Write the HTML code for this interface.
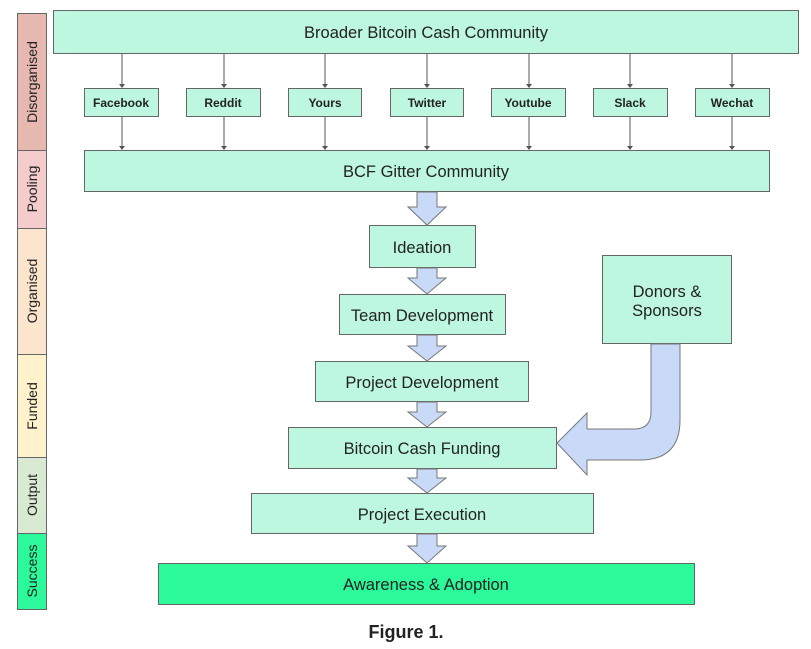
<!DOCTYPE html>
<html><head><meta charset="utf-8"><style>
body{margin:0;background:#fff;width:811px;height:649px;overflow:hidden}
svg{display:block}
text{font-family:"Liberation Sans",Arial,sans-serif;fill:#222}
</style></head><body>
<svg width="811" height="649" viewBox="0 0 811 649" xmlns="http://www.w3.org/2000/svg">
<g stroke="#666" stroke-width="1">
<rect x="17.5" y="13.5" width="29" height="137" fill="#e6b8af"/>
<rect x="17.5" y="150.5" width="29" height="78" fill="#f4cccc"/>
<rect x="17.5" y="228.5" width="29" height="126" fill="#fce5cd"/>
<rect x="17.5" y="354.5" width="29" height="103" fill="#fff2cc"/>
<rect x="17.5" y="457.5" width="29" height="76" fill="#d9ead3"/>
<rect x="17.5" y="533.5" width="29" height="76" fill="#2bf99a"/>
</g>
<g font-size="14" text-anchor="middle">
<text transform="translate(37,82) rotate(-90)">Disorganised</text>
<text transform="translate(37,189) rotate(-90)">Pooling</text>
<text transform="translate(37,291) rotate(-90)">Organised</text>
<text transform="translate(37,406) rotate(-90)">Funded</text>
<text transform="translate(37,495) rotate(-90)">Output</text>
<text transform="translate(37,571) rotate(-90)">Success</text>
</g>
<g stroke="#666" stroke-width="1" fill="#bdf7df">
<rect x="53.5" y="10.5" width="745" height="43"/>
<rect x="84.5" y="88.5" width="74" height="28"/>
<rect x="186.5" y="88.5" width="74" height="28"/>
<rect x="288.5" y="88.5" width="73" height="28"/>
<rect x="390.5" y="88.5" width="73" height="28"/>
<rect x="491.5" y="88.5" width="74" height="28"/>
<rect x="593.5" y="88.5" width="74" height="28"/>
<rect x="695.5" y="88.5" width="74" height="28"/>
<rect x="84.5" y="150.5" width="685" height="41"/>
<rect x="369.5" y="225.5" width="106" height="42"/>
<rect x="339.5" y="294.5" width="166" height="40"/>
<rect x="315.5" y="361.5" width="213" height="40"/>
<rect x="288.5" y="427.5" width="268" height="41"/>
<rect x="251.5" y="493.5" width="342" height="40"/>
<rect x="602.5" y="255.5" width="129" height="88"/>
<rect x="158.5" y="563.5" width="536" height="41" fill="#2bf99a"/>
</g>
<g stroke="#555" stroke-width="1">
<path d="M122 54V85M224 54V85M325 54V85M427 54V85M529 54V85M630 54V85M732 54V85M122 117V147M224 117V147M325 117V147M427 117V147M529 117V147M630 117V147M732 117V147"/>
</g>
<g fill="#555">
<path d="M119 84h6l-3 4zM221 84h6l-3 4zM322 84h6l-3 4zM424 84h6l-3 4zM526 84h6l-3 4zM627 84h6l-3 4zM729 84h6l-3 4z"/>
<path d="M119 146h6l-3 4zM221 146h6l-3 4zM322 146h6l-3 4zM424 146h6l-3 4zM526 146h6l-3 4zM627 146h6l-3 4zM729 146h6l-3 4z"/>
</g>
<g fill="#c9daf8" stroke="#777" stroke-width="1">
<path d="M417 192V207H408L427 225L446 207H437V192Z"/>
<path d="M417 268V278H408L427 294L446 278H437V268Z"/>
<path d="M417 335V346H408L427 361L446 346H437V335Z"/>
<path d="M417 402V412H408L427 427L446 412H437V402Z"/>
<path d="M417 469V478H408L427 493L446 478H437V469Z"/>
<path d="M417 534V546H408L427 563L446 546H437V534Z"/>
<path d="M651 344V412Q651 429 634 429H587V413L557 443L587 475V460H640Q680 460 680 420V344Z"/>
</g>
<g font-size="16.5" text-anchor="middle">
<text x="426" y="38">Broader Bitcoin Cash Community</text>
<text x="426" y="177">BCF Gitter Community</text>
<text x="422" y="253">Ideation</text>
<text x="422" y="321">Team Development</text>
<text x="422" y="388">Project Development</text>
<text x="422" y="454">Bitcoin Cash Funding</text>
<text x="422" y="520">Project Execution</text>
<text x="426" y="590">Awareness &amp; Adoption</text>
<text x="667" y="297">Donors &amp;</text>
<text x="667" y="316">Sponsors</text>
</g>
<g font-size="12" font-weight="bold" text-anchor="middle">
<text x="121" y="107">Facebook</text>
<text x="223" y="107">Reddit</text>
<text x="325" y="107">Yours</text>
<text x="427" y="107">Twitter</text>
<text x="528" y="107">Youtube</text>
<text x="630" y="107">Slack</text>
<text x="732" y="107">Wechat</text>
</g>
<text x="406" y="638" font-size="18" font-weight="bold" text-anchor="middle">Figure 1.</text>
</svg>
</body></html>
